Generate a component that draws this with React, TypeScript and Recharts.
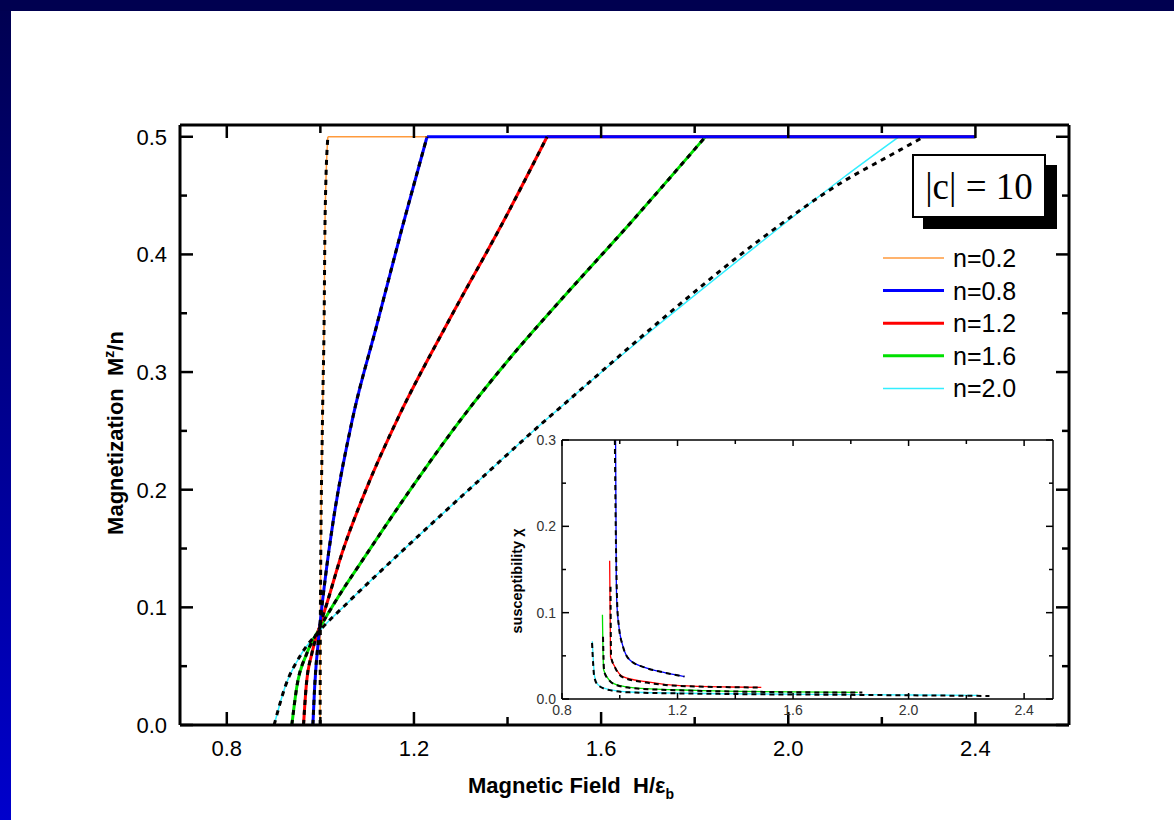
import React from 'react';
import { LineChart, Line, XAxis, YAxis, Legend } from 'recharts';

// main panel: M^z/n against H/eps_b, one curve per filling n (|c| = 10)
const magN02 = [
  { h: 0.9995, m: 0 }, { h: 1.0, m: 0.09 }, { h: 1.0045, m: 0.26 }, { h: 1.008, m: 0.344 },
  { h: 1.01, m: 0.429 }, { h: 1.016, m: 0.5 }, { h: 2.4, m: 0.5 },
];
const magN08 = [
  { h: 0.984, m: 0 }, { h: 0.9878, m: 0.0323 }, { h: 0.998, m: 0.0806 }, { h: 1.0113, m: 0.1273 },
  { h: 1.0261, m: 0.1698 }, { h: 1.068, m: 0.2589 }, { h: 1.1204, m: 0.3396 }, { h: 1.176, m: 0.4244 },
  { h: 1.228, m: 0.5 }, { h: 2.4, m: 0.5 },
];
const magN12 = [
  { h: 0.964, m: 0 }, { h: 0.9696, m: 0.0325 }, { h: 0.9818, m: 0.0608 }, { h: 0.996, m: 0.0806 },
  { h: 1.0139, m: 0.1033 }, { h: 1.046, m: 0.1457 }, { h: 1.0995, m: 0.202 }, { h: 1.1636, m: 0.259 },
  { h: 1.275, m: 0.344 }, { h: 1.3925, m: 0.429 }, { h: 1.4845, m: 0.5 }, { h: 2.4, m: 0.5 },
];
const magN16 = [
  { h: 0.939, m: 0 }, { h: 0.9497, m: 0.0325 }, { h: 0.971, m: 0.0608 }, { h: 0.996, m: 0.0806 },
  { h: 1.0295, m: 0.1033 }, { h: 1.0995, m: 0.1457 }, { h: 1.1957, m: 0.202 }, { h: 1.299, m: 0.259 },
  { h: 1.413, m: 0.3155 }, { h: 1.513, m: 0.3608 }, { h: 1.667, m: 0.4287 }, { h: 1.823, m: 0.5 },
  { h: 2.4, m: 0.5 },
];
const magN20 = [
  { h: 0.9012, m: 0 }, { h: 0.9247, m: 0.0325 }, { h: 0.96, m: 0.0608 }, { h: 0.9996, m: 0.0806 },
  { h: 1.0567, m: 0.1033 }, { h: 1.169, m: 0.1457 }, { h: 1.3228, m: 0.202 }, { h: 1.481, m: 0.259 },
  { h: 1.5467, m: 0.2816 }, { h: 1.7232, m: 0.3404 }, { h: 1.9328, m: 0.4075 }, { h: 2.1202, m: 0.466 },
  { h: 2.2366, m: 0.5 }, { h: 2.4, m: 0.5 },
];
// black dashed comparison curves (stop at saturation)
const magN02Fit = magN02.slice(0, -1);
const magN08Fit = magN08.slice(0, -1);
const magN12Fit = magN12.slice(0, -1);
const magN16Fit = magN16.slice(0, -1);
const magN20Fit = [
  { h: 0.9012, m: 0 }, { h: 0.9247, m: 0.0325 }, { h: 0.96, m: 0.0608 }, { h: 0.9996, m: 0.0806 },
  { h: 1.0567, m: 0.1033 }, { h: 1.169, m: 0.1457 }, { h: 1.3228, m: 0.202 }, { h: 1.481, m: 0.259 },
  { h: 1.5467, m: 0.2816 }, { h: 1.72, m: 0.3415 }, { h: 1.937, m: 0.4117 }, { h: 2.126, m: 0.464 },
  { h: 2.208, m: 0.482 }, { h: 2.29, m: 0.5 },
];

// inset: susceptibility chi against H/eps_b
const chiN08 = [
  { h: 0.9855, chi: 0.3 }, { h: 0.988, chi: 0.138 }, { h: 0.99, chi: 0.111 }, { h: 0.997, chi: 0.084 },
  { h: 1.011, chi: 0.061 }, { h: 1.034, chi: 0.0455 }, { h: 1.091, chi: 0.036 }, { h: 1.149, chi: 0.031 },
  { h: 1.224, chi: 0.026 },
];
const chiN12 = [
  { h: 0.965, chi: 0.16 }, { h: 0.968, chi: 0.049 }, { h: 0.982, chi: 0.038 }, { h: 1.011, chi: 0.026 },
  { h: 1.091, chi: 0.02 }, { h: 1.207, chi: 0.0154 }, { h: 1.38, chi: 0.0139 }, { h: 1.49, chi: 0.0135 },
];
const chiN16 = [
  { h: 0.94, chi: 0.0977 }, { h: 0.944, chi: 0.034 }, { h: 0.959, chi: 0.024 }, { h: 0.988, chi: 0.0166 },
  { h: 1.057, chi: 0.0127 }, { h: 1.265, chi: 0.01 }, { h: 1.496, chi: 0.0085 }, { h: 1.824, chi: 0.0077 },
];
const chiN20 = [
  { h: 0.905, chi: 0.0668 }, { h: 0.913, chi: 0.026 }, { h: 0.925, chi: 0.0166 }, { h: 0.965, chi: 0.0108 },
  { h: 1.034, chi: 0.0081 }, { h: 1.38, chi: 0.0061 }, { h: 1.842, chi: 0.005 }, { h: 2.24, chi: 0.0042 },
];
const chiN08Fit = [
  { h: 0.983, chi: 0.3 }, { h: 0.986, chi: 0.2 }, { h: 0.989, chi: 0.138 }, { h: 0.991, chi: 0.111 },
  { h: 0.997, chi: 0.084 }, { h: 1.011, chi: 0.061 }, { h: 1.034, chi: 0.0455 }, { h: 1.091, chi: 0.036 },
  { h: 1.149, chi: 0.031 }, { h: 1.224, chi: 0.026 },
];
const chiN12Fit = [
  { h: 0.968, chi: 0.13 }, { h: 0.97, chi: 0.049 }, { h: 0.983, chi: 0.037 }, { h: 1.011, chi: 0.025 },
  { h: 1.091, chi: 0.019 }, { h: 1.207, chi: 0.0152 }, { h: 1.38, chi: 0.0137 }, { h: 1.49, chi: 0.0133 },
];
const chiN16Fit = [
  { h: 0.942, chi: 0.072 }, { h: 0.946, chi: 0.032 }, { h: 0.96, chi: 0.023 }, { h: 0.99, chi: 0.016 },
  { h: 1.06, chi: 0.0122 }, { h: 1.265, chi: 0.0096 }, { h: 1.5, chi: 0.0082 }, { h: 1.84, chi: 0.0074 },
];
const chiN20Fit = [
  { h: 0.904, chi: 0.065 }, { h: 0.912, chi: 0.025 }, { h: 0.925, chi: 0.016 }, { h: 0.965, chi: 0.0103 },
  { h: 1.034, chi: 0.0077 }, { h: 1.38, chi: 0.0058 }, { h: 1.842, chi: 0.0047 }, { h: 2.28, chi: 0.0035 },
];

const seriesNames = ['n=0.2', 'n=0.8', 'n=1.2', 'n=1.6', 'n=2.0'];
const seriesColors = ['#ff9a3c', '#0000ff', '#ff0000', '#00e000', '#33eeff'];
const seriesWidths = [1.5, 3, 3, 3, 1.5];

const mainXTicks = [0.8, 1.0, 1.2, 1.4, 1.6, 1.8, 2.0, 2.2, 2.4];
const mainYTicks = [0, 0.05, 0.1, 0.15, 0.2, 0.25, 0.3, 0.35, 0.4, 0.45, 0.5];
const insetXTicks = [0.8, 1.0, 1.2, 1.4, 1.6, 1.8, 2.0, 2.2, 2.4];
const insetYTicks = [0, 0.05, 0.1, 0.15, 0.2, 0.25, 0.3];

const SANS = "'Liberation Sans', Arial, sans-serif";

type Side = 'bottom' | 'top' | 'left' | 'right';
type TickOpts = { major: number; long: number; short: number; font: number; gap: number; labels: boolean; sw: number; color: string };

// inward ticks (major/minor) drawn by hand, labels outside the frame
const makeTick = (side: Side, o: TickOpts) => (props: any) => {
  const { x, y, payload } = props;
  const v = payload.value as number;
  const r = v / o.major;
  const isMajor = Math.abs(r - Math.round(r)) < 1e-6;
  const len = isMajor ? o.long : o.short;
  let line;
  let label = null;
  if (side === 'bottom') {
    line = <line x1={x} x2={x} y1={y} y2={y - len} stroke="#000" strokeWidth={o.sw} />;
    if (o.labels && isMajor)
      label = <text x={x} y={y + o.gap + o.font * 0.72} textAnchor="middle" fontSize={o.font} fontFamily={SANS} fill={o.color}>{v.toFixed(1)}</text>;
  } else if (side === 'top') {
    line = <line x1={x} x2={x} y1={y} y2={y + len} stroke="#000" strokeWidth={o.sw} />;
  } else if (side === 'left') {
    line = <line x1={x} x2={x + len} y1={y} y2={y} stroke="#000" strokeWidth={o.sw} />;
    if (o.labels && isMajor)
      label = <text x={x - o.gap} y={y + o.font * 0.36} textAnchor="end" fontSize={o.font} fontFamily={SANS} fill={o.color}>{v.toFixed(1)}</text>;
  } else {
    line = <line x1={x} x2={x - len} y1={y} y2={y} stroke="#000" strokeWidth={o.sw} />;
  }
  return <g>{line}{label}</g>;
};

const mainTick: TickOpts = { major: 0.4, long: 13, short: 8, font: 22, gap: 15, labels: true, sw: 2.5, color: '#000' };
const mainYTick: TickOpts = { ...mainTick, major: 0.1, short: 7, gap: 13 };
const insetTick: TickOpts = { major: 0.4, long: 6, short: 4, font: 14, gap: 6, labels: true, sw: 1.5, color: '#333' };
const insetYTick: TickOpts = { ...insetTick, major: 0.1, long: 7, gap: 6 };

const MainXTitle = () => (
  <text x={571} y={793} textAnchor="middle" fontSize={22} fontWeight="bold" fontFamily={SANS}>
    Magnetic Field{'\u00a0\u00a0'}H/ε<tspan dy={6} fontSize={14}>b</tspan>
  </text>
);
const MainYTitle = () => (
  <text x={0} y={0} transform="translate(123 433) rotate(-90)" textAnchor="middle" fontSize={22} fontWeight="bold" fontFamily={SANS}>
    Magnetization{'\u00a0\u00a0'}M<tspan dy={-9} fontSize={14}>z</tspan><tspan dy={9}>/n</tspan>
  </text>
);
const InsetYTitle = () => (
  <text x={0} y={0} transform="translate(42 161) rotate(-90)" textAnchor="middle" fontSize={14.5} fontWeight="bold" fontFamily={SANS}>
    susceptibility χ
  </text>
);

const LegendBox = () => (
  <svg width={160} height={170}>
    {seriesNames.map((name, i) => {
      const cy = 18 + i * 32.6;
      return (
        <g key={name}>
          <line x1={3} x2={64} y1={cy} y2={cy} stroke={seriesColors[i]} strokeWidth={seriesWidths[i]} />
          <text x={73} y={cy + 9} fontSize={25} fontFamily={SANS} fill="#000">{name}</text>
        </g>
      );
    })}
  </svg>
);

const mainCurves = [magN02, magN08, magN12, magN16, magN20];
const mainFits = [magN02Fit, magN08Fit, magN12Fit, magN16Fit, magN20Fit];
const drawOrder = [0, 4, 3, 2, 1];
const insetCurves = [chiN08, chiN12, chiN16, chiN20];
const insetFits = [chiN08Fit, chiN12Fit, chiN16Fit, chiN20Fit];

export default function App() {
  const axisLine = { stroke: '#000', strokeWidth: 3 };
  const insetAxisLine = { stroke: '#000', strokeWidth: 1.5 };
  return (
    <div style={{ position: 'absolute', left: 0, top: 0, width: 1174, height: 820, background: '#fff', overflow: 'hidden' }}>
      <div style={{ position: 'absolute', left: 0, top: 0 }}>
        <LineChart width={1174} height={820} margin={{ top: 115, right: 95, bottom: 35, left: 90 }}>
          <XAxis xAxisId="b" type="number" dataKey="h" domain={[0.7, 2.6]} allowDataOverflow ticks={mainXTicks}
            interval={0} tickSize={0} tickMargin={0} tickLine={false} axisLine={axisLine} height={60}
            tick={makeTick('bottom', mainTick)} label={<MainXTitle />} />
          <XAxis xAxisId="t" orientation="top" type="number" dataKey="h" domain={[0.7, 2.6]} allowDataOverflow ticks={mainXTicks}
            interval={0} tickSize={0} tickMargin={0} tickLine={false} axisLine={axisLine} height={10}
            tick={makeTick('top', mainTick)} />
          <YAxis yAxisId="l" type="number" dataKey="m" domain={[0, 0.51]} allowDataOverflow ticks={mainYTicks}
            interval={0} tickSize={0} tickMargin={0} tickLine={false} axisLine={axisLine} width={90}
            tick={makeTick('left', mainYTick)} label={<MainYTitle />} />
          <YAxis yAxisId="r" orientation="right" type="number" dataKey="m" domain={[0, 0.51]} allowDataOverflow ticks={mainYTicks}
            interval={0} tickSize={0} tickMargin={0} tickLine={false} axisLine={axisLine} width={10}
            tick={makeTick('right', mainYTick)} />
          {/* rising part smooth, saturated plateau straight */}
          {drawOrder.map((i) => (
            <Line key={'c' + i} xAxisId="b" yAxisId="l" data={mainCurves[i].slice(0, -1)} dataKey="m" type="monotone"
              stroke={seriesColors[i]} strokeWidth={seriesWidths[i]} dot={false} activeDot={false}
              legendType="none" isAnimationActive={false} />
          ))}
          {drawOrder.map((i) => (
            <Line key={'p' + i} xAxisId="b" yAxisId="l" data={mainCurves[i].slice(-2)} dataKey="m" type="linear"
              stroke={seriesColors[i]} strokeWidth={seriesWidths[i]} dot={false} activeDot={false}
              legendType="none" isAnimationActive={false} />
          ))}
          {mainFits.map((d, i) => (
            <Line key={'f' + i} xAxisId="b" yAxisId="l" data={d} dataKey="m" type="monotone"
              stroke="#000" strokeWidth={3} strokeDasharray="5 5" dot={false} activeDot={false}
              legendType="none" isAnimationActive={false} />
          ))}
          <Legend content={<LegendBox />} layout="vertical" align="center" verticalAlign="middle"
            wrapperStyle={{ left: 880, top: 240, width: 160, height: 170 }} />
        </LineChart>
      </div>

      <div style={{ position: 'absolute', left: 912, top: 154, width: 130, height: 60, border: '2.5px solid #000',
        boxShadow: '11px 11px 0 #000', background: '#fff', display: 'flex', alignItems: 'center', justifyContent: 'center',
        fontFamily: "'Liberation Serif', 'Times New Roman', serif", fontSize: 37, color: '#000' }}>
        |c| = 10
      </div>

      <div style={{ position: 'absolute', left: 480, top: 420 }}>
        <LineChart width={600} height={320} margin={{ top: 15, right: 22, bottom: 16, left: 22 }}>
          <XAxis xAxisId="b" type="number" dataKey="h" domain={[0.8, 2.5]} allowDataOverflow ticks={insetXTicks}
            interval={0} tickSize={0} tickMargin={0} tickLine={false} axisLine={insetAxisLine} height={25}
            tick={makeTick('bottom', insetTick)} />
          <XAxis xAxisId="t" orientation="top" type="number" dataKey="h" domain={[0.8, 2.5]} allowDataOverflow ticks={insetXTicks}
            interval={0} tickSize={0} tickMargin={0} tickLine={false} axisLine={insetAxisLine} height={5}
            tick={makeTick('top', insetTick)} />
          <YAxis yAxisId="l" type="number" dataKey="chi" domain={[0, 0.3]} allowDataOverflow ticks={insetYTicks}
            interval={0} tickSize={0} tickMargin={0} tickLine={false} axisLine={insetAxisLine} width={60}
            tick={makeTick('left', insetYTick)} label={<InsetYTitle />} />
          <YAxis yAxisId="r" orientation="right" type="number" dataKey="chi" domain={[0, 0.3]} allowDataOverflow ticks={insetYTicks}
            interval={0} tickSize={0} tickMargin={0} tickLine={false} axisLine={insetAxisLine} width={5}
            tick={makeTick('right', insetYTick)} />
          {insetCurves.map((d, i) => (
            <Line key={'ic' + i} xAxisId="b" yAxisId="l" data={d} dataKey="chi" type="monotone"
              stroke={seriesColors[i + 1]} strokeWidth={1.3} dot={false} activeDot={false}
              legendType="none" isAnimationActive={false} />
          ))}
          {insetFits.map((d, i) => (
            <Line key={'if' + i} xAxisId="b" yAxisId="l" data={d} dataKey="chi" type="monotone"
              stroke="#000" strokeWidth={2} strokeDasharray="5 4" dot={false} activeDot={false}
              legendType="none" isAnimationActive={false} />
          ))}
        </LineChart>
      </div>

      <div style={{ position: 'absolute', left: 0, top: 0, width: 11, height: 820, background: 'linear-gradient(#000050, #0000cc)' }} />
      <div style={{ position: 'absolute', left: 0, top: 0, width: 1174, height: 11, background: '#000050' }} />
    </div>
  );
}
